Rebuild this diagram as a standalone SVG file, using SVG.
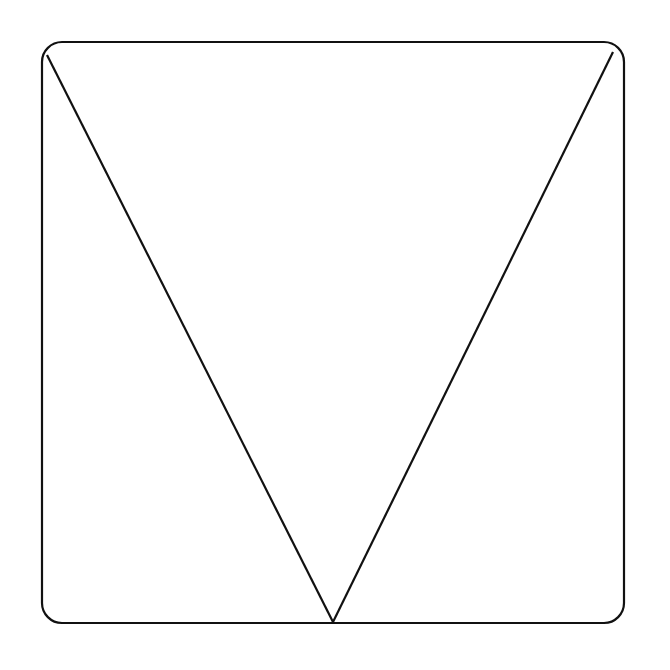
<svg xmlns="http://www.w3.org/2000/svg" width="670" height="670" viewBox="0 0 670 670">
<style>.s{fill:none;stroke:#111;stroke-width:2.2}</style>
<rect width="670" height="670" fill="#fff"/>
<g id="frame"><rect class="s" x="42" y="42" width="582" height="581" rx="20" ry="20"/></g>
<g id="connectors">
<line class="s" x1="47" y1="55" x2="333" y2="622"/>
<line class="s" x1="613" y1="52" x2="333" y2="622"/>
</g>
</svg>
